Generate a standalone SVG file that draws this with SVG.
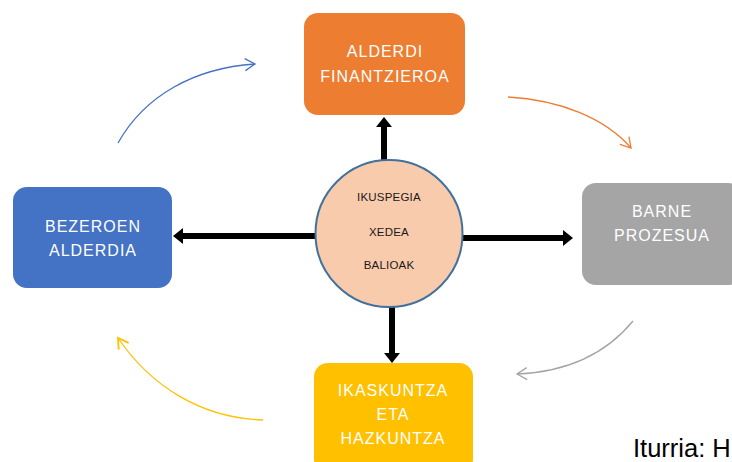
<svg xmlns="http://www.w3.org/2000/svg" width="732" height="462" viewBox="0 0 732 462">
<style>
.box-text{font-family:"Liberation Sans",Arial,sans-serif;font-size:16px;fill:#ffffff;text-anchor:middle;letter-spacing:1px}
.c-text{font-family:"Liberation Sans",Arial,sans-serif;font-size:11.5px;fill:#1a1a1a;text-anchor:middle;letter-spacing:0.2px}
.thick{stroke:#000000;stroke-width:6;fill:none}
.curve{fill:none;stroke-width:1.3}
.src{font-family:"Liberation Sans",Arial,sans-serif;font-size:25.5px;fill:#000000}
</style>
<defs>
<marker id="head" markerUnits="userSpaceOnUse" markerWidth="12" markerHeight="18" refX="2" refY="8" orient="auto" viewBox="0 0 12 18">
<path d="M0,0 L10,8 L0,16 z" fill="#000000"/>
</marker>
<marker id="chev-blue" markerUnits="userSpaceOnUse" markerWidth="14" markerHeight="16" refX="11" refY="7" orient="auto" viewBox="0 0 14 16">
<path d="M1,1 L11,7 L1,13" fill="none" stroke="#4472C4" stroke-width="1.3"/>
</marker>
<marker id="chev-orange" markerUnits="userSpaceOnUse" markerWidth="14" markerHeight="16" refX="11" refY="7" orient="auto" viewBox="0 0 14 16">
<path d="M1,1 L11,7 L1,13" fill="none" stroke="#ED7D31" stroke-width="1.3"/>
</marker>
<marker id="chev-gray" markerUnits="userSpaceOnUse" markerWidth="14" markerHeight="16" refX="11" refY="7" orient="auto" viewBox="0 0 14 16">
<path d="M1,1 L11,7 L1,13" fill="none" stroke="#A5A5A5" stroke-width="1.3"/>
</marker>
<marker id="chev-yellow" markerUnits="userSpaceOnUse" markerWidth="14" markerHeight="16" refX="11" refY="7" orient="auto" viewBox="0 0 14 16">
<path d="M1,1 L11,7 L1,13" fill="none" stroke="#FFC000" stroke-width="1.8"/>
</marker>
</defs>
<rect width="732" height="462" fill="#ffffff"/>
<g id="connectors">
<line class="thick" x1="384" y1="162" x2="384" y2="125" marker-end="url(#head)"/>
<line class="thick" x1="317" y1="236" x2="181" y2="236" marker-end="url(#head)"/>
<line class="thick" x1="461" y1="238" x2="565" y2="238" marker-end="url(#head)"/>
<line class="thick" x1="392" y1="305" x2="392" y2="355" marker-end="url(#head)"/>
<path class="curve" stroke="#4472C4" d="M118,143 C145,95 195,68 255,64" marker-end="url(#chev-blue)"/>
<path class="curve" stroke="#ED7D31" d="M508,97 C560,100 605,118 631,148" marker-end="url(#chev-orange)"/>
<path class="curve" stroke="#A5A5A5" d="M633,321 C605,355 565,372 517,374" marker-end="url(#chev-gray)"/>
<path class="curve" stroke="#FFC000" stroke-width="1.8" d="M263,420 C200,418 150,385 118,338" marker-end="url(#chev-yellow)"/>
</g>
<g id="node-finantzieroa">
<rect x="304" y="13" width="161" height="102" rx="14" fill="#ED7D31"/>
<text class="box-text" x="385" y="57">ALDERDI</text>
<text class="box-text" x="385" y="82">FINANTZIEROA</text>
</g>
<g id="node-bezeroen">
<rect x="13" y="187" width="159" height="101" rx="14" fill="#4472C4"/>
<text class="box-text" x="93" y="232">BEZEROEN</text>
<text class="box-text" x="93" y="256">ALDERDIA</text>
</g>
<g id="node-barne">
<rect x="582" y="183" width="160" height="102" rx="14" fill="#A5A5A5"/>
<text class="box-text" x="662" y="217">BARNE</text>
<text class="box-text" x="662" y="241">PROZESUA</text>
</g>
<g id="node-ikaskuntza">
<rect x="314" y="363" width="159" height="110" rx="14" fill="#FFC000"/>
<text class="box-text" x="393" y="396">IKASKUNTZA</text>
<text class="box-text" x="393" y="420">ETA</text>
<text class="box-text" x="393" y="444">HAZKUNTZA</text>
</g>
<g id="node-center">
<circle cx="389" cy="233.5" r="73.5" fill="#F8CBAD" stroke="#41719C" stroke-width="2"/>
<text class="c-text" x="389" y="201">IKUSPEGIA</text>
<text class="c-text" x="389" y="236">XEDEA</text>
<text class="c-text" x="389" y="269">BALIOAK</text>
</g>
<text class="src" x="633" y="457">Iturria: H</text>
</svg>
